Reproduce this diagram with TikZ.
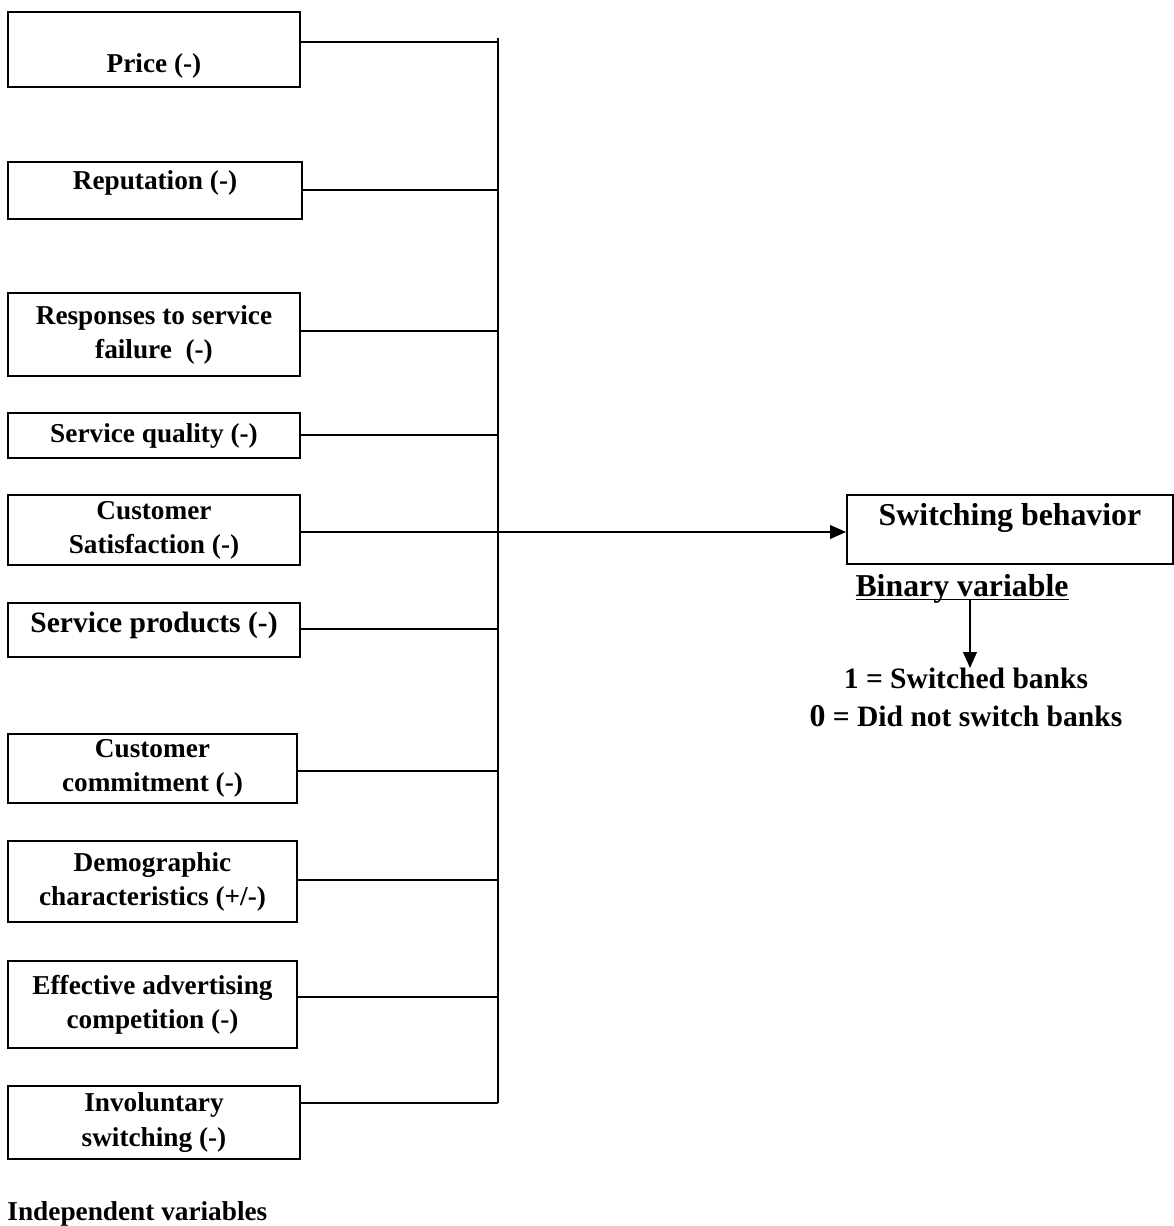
\documentclass[tikz,border=0pt]{standalone}
\usepackage{fontspec}
\setmainfont{Liberation Serif}
\usetikzlibrary{arrows.meta}

\begin{document}
\begin{tikzpicture}[x=0.44pt,y=-0.44pt]
                        \tikzstyle{ivbox}=[draw,rectangle,line width=0.9pt,inner sep=0pt,align=center,
                            font=\fontsize{12}{15}\selectfont\bfseries,minimum width=128.5pt]
                        \tikzstyle{conn}=[line width=0.75pt]
                        \tikzstyle{arr}=[line width=0.75pt,-{Triangle[length=7pt,width=6pt]}]
                        \useasboundingbox (0,0) rectangle (1174,1226);
                        % independent variables
                        \node[ivbox,minimum height=33.3pt,text height=26.5pt,text depth=6.7pt] (price) at (154,49.5) {Price (-)};
                        \node[ivbox,minimum width=129.4pt,minimum height=25.1pt,text height=11.9pt,text depth=13.2pt] (reput) at (155,190.5) {Reputation (-)};
                        \node[ivbox,minimum height=36.5pt] (respfail) at (154,334.5) {Responses to service\\failure~ (-)};
                        \node[ivbox,minimum height=19.8pt] (servqual) at (154,435.5) {Service quality (-)};
                        \node[ivbox,minimum height=30.8pt] (custsat) at (154,530) {Customer\\Satisfaction (-)};
                        \node[ivbox,minimum height=23.8pt,text height=13.1pt,text depth=10.7pt,
                            font=\fontsize{13}{16}\selectfont\bfseries] (servprod) at (154,630) {Service products (-)};
                        \node[ivbox,minimum width=127.2pt,minimum height=30.4pt] (custcomm) at (152.5,768.5) {Customer\\commitment (-)};
                        \node[ivbox,minimum width=127.2pt,minimum height=35.6pt] (demog) at (152.5,881.5) {Demographic\\characteristics (+/-)};
                        \node[ivbox,minimum width=127.2pt,minimum height=38.3pt] (effadv) at (152.5,1004.5) {Effective advertising\\competition (-)};
                        \node[ivbox,minimum height=32.1pt] (involsw) at (154,1122.5) {Involuntary\\switching (-)};
                        \node[font=\fontsize{12}{15}\selectfont\bfseries,anchor=base west,inner sep=0pt] (indep) at (7,1220) {Independent variables};
                        % dependent variable
                        \node[ivbox,minimum width=143.4pt,minimum height=30.4pt,text height=13.6pt,text depth=16.8pt,
                            font=\fontsize{14}{17}\selectfont\bfseries] (switchb) at (1010,529.5) {Switching behavior};
                        \node[font=\fontsize{14}{17}\selectfont\bfseries,anchor=base,inner sep=0pt] (binvar) at (962,596) {\underline{\smash{Binary variable}}};
                        \node[font=\fontsize{13}{16.7}\selectfont\bfseries,align=center,anchor=north,inner sep=0pt] (outc) at (966,668)
                            {1 = Switched banks\\{\fontsize{14}{16.7}\selectfont 0} = Did not switch banks};
                        % bus and joints
                        \coordinate (bustop) at (498,38);
                        \foreach \y [count=\i] in {41.7,190,331,435,532,629,771,880,997,1103}
                            \coordinate (j\i) at (498,\y);
                        \draw[line width=0.9pt] (bustop) -- (j10);
                        \foreach \b/\j in {price/j1,reput/j2,respfail/j3,servqual/j4,servprod/j6,custcomm/j7,demog/j8,effadv/j9,involsw/j10}
                            \draw[conn] (\b.east |- \j) -- (\j);
                        \draw[arr] (custsat.east |- j5) -- (switchb.west |- j5);
                        \coordinate (dn) at (970,600);
                        \draw[arr] (dn) -- (dn |- outc.north);
                    \end{tikzpicture}
\end{document}
